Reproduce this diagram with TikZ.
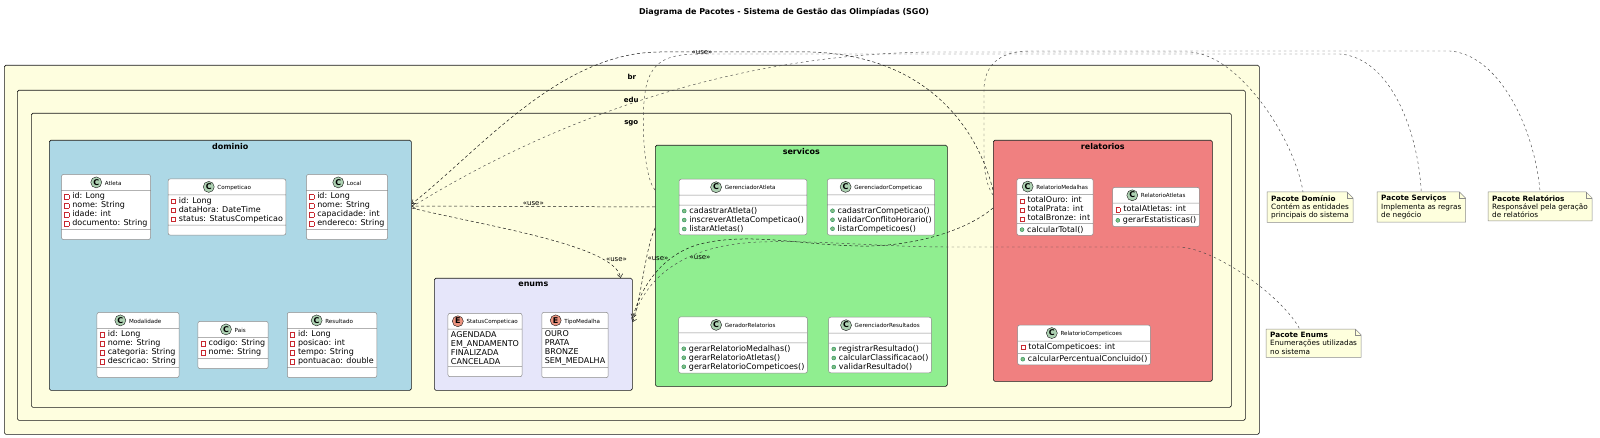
\documentclass[tikz,border=0pt]{standalone}
\usepackage{fontspec}
\setmainfont{DejaVu Sans}
\usetikzlibrary{positioning, arrows.meta, shapes.multipart, backgrounds}

\definecolor{pkgyellow}{HTML}{FEFEDF}
\definecolor{dombg}{HTML}{ADD8E6}
\definecolor{enumbg}{HTML}{E6E6FA}
\definecolor{servbg}{HTML}{90EE90}
\definecolor{relbg}{HTML}{F08080}
\definecolor{classgreen}{HTML}{ADD1B2}
\definecolor{enumred}{HTML}{EB937F}
\definecolor{privred}{HTML}{C82930}
\definecolor{pubgreen}{HTML}{84BE84}
\definecolor{pubdark}{HTML}{038048}
\definecolor{linedark}{HTML}{181818}
\definecolor{classgray}{HTML}{8A8A8A}
\definecolor{notebg}{HTML}{FEFFDD}

% visibility marks and class header
\newcommand{\priv}{{\setlength{\fboxsep}{0pt}\setlength{\fboxrule}{0.6pt}\fcolorbox{privred}{white}{\rule{0pt}{3.6pt}\rule{3.6pt}{0pt}}}\hspace{3pt}}
\newcommand{\pub}{\tikz[baseline=-0.2pt]\filldraw[draw=pubdark, fill=pubgreen, line width=0.3pt] (2.2pt,2.2pt) circle (2pt);\hspace{3pt}}
\newcommand{\chead}[3]{\tikz[baseline=-2.7pt]\filldraw[draw=linedark, fill=#1, line width=0.4pt] (0pt,0pt) circle (5.5pt);\hspace{-5.7pt}\makebox[0pt][c]{\bfseries #2}\hspace{8.7pt}{\fontsize{5.6}{6}\selectfont #3}}

\tikzset{
  pkg/.style={draw=linedark, line width=0.6pt, rounded corners=1.5pt, anchor=north west, inner sep=0pt},
  pkgname/.style={font=\bfseries\fontsize{8}{9}\selectfont, inner sep=1pt},
  outername/.style={font=\bfseries\fontsize{7}{8}\selectfont, inner sep=1pt},
  umlclass/.style={rectangle split, rectangle split parts=3, draw=classgray, line width=0.5pt,
    fill=white, rounded corners=2pt, align=left, rectangle split part align={center,left,left},
    inner xsep=3pt, inner ysep=2pt, rectangle split empty part height=1.5pt,
    font=\fontsize{8}{9}\selectfont},
  notebox/.style={anchor=north west, align=left, inner xsep=4pt, inner ysep=3pt,
    font=\fontsize{7.3}{8.3}\selectfont},
  notedraw/.style={draw=classgray, fill=notebg, line width=0.5pt},
  usedep/.style={draw=linedark, line width=0.5pt, dash pattern=on 3pt off 2.5pt,
    -{Straight Barb[length=3.5pt, width=5.5pt]}},
  uselabel/.style={font=\fontsize{7}{8}\selectfont, inner sep=1pt},
  notelink/.style={draw=linedark!80, line width=0.45pt, dash pattern=on 2.5pt off 3pt},
}

\begin{document}
\begin{tikzpicture}[x=1pt, y=-1pt]
    \useasboundingbox (0,0) rectangle (1600,438);

    % Title
    \node[font=\bfseries\fontsize{8}{9}\selectfont] (title) at (784,12) {Diagrama de Pacotes - Sistema de Gestão das Olimpíadas (SGO)};

    % Nested packages
    \node[pkg, fill=pkgyellow, minimum width=1255pt, minimum height=369pt] (br) at (4,65) {};
    \node[outername, below=8pt of br.north] (brName) {br};
    \node[pkg, fill=pkgyellow, minimum width=1228pt, minimum height=330pt] (edu) at (17,90) {};
    \node[outername, below=6pt of edu.north] (eduName) {edu};
    \node[pkg, fill=pkgyellow, minimum width=1200pt, minimum height=294pt] (sgo) at (31,113) {};
    \node[outername, below=6pt of sgo.north] (sgoName) {sgo};

    \node[pkg, fill=dombg, minimum width=362pt, minimum height=250pt] (dominio) at (49,140) {};
    \node[pkgname, below=2pt of dominio.north] (dominioName) {dominio};
    \node[pkg, fill=enumbg, minimum width=198pt, minimum height=112pt] (enums) at (434,278) {};
    \node[pkgname, below=3pt of enums.north] (enumsName) {enums};
    \node[pkg, fill=servbg, minimum width=292pt, minimum height=241pt] (servicos) at (655,145) {};
    \node[pkgname, below=2pt of servicos.north] (servicosName) {servicos};
    \node[pkg, fill=relbg, minimum width=219pt, minimum height=241pt] (relatorios) at (993,140) {};
    \node[pkgname, below=2pt of relatorios.north] (relatoriosName) {relatorios};

    % dominio classes
    \node[umlclass] (atleta) at (106,207) {\chead{classgreen}{C}{Atleta}%
      \nodepart{two}\priv id: Long\\\priv nome: String\\\priv idade: int\\\priv documento: String%
      \nodepart{three}};
    \node[umlclass] (competicao) at (227,207) {\chead{classgreen}{C}{Competicao}%
      \nodepart{two}\priv id: Long\\\priv dataHora: DateTime\\\priv status: StatusCompeticao%
      \nodepart{three}};
    \node[umlclass] (local) at (347,207) {\chead{classgreen}{C}{Local}%
      \nodepart{two}\priv id: Long\\\priv nome: String\\\priv capacidade: int\\\priv endereco: String%
      \nodepart{three}};
    \node[umlclass] (modalidade) at (138,345) {\chead{classgreen}{C}{Modalidade}%
      \nodepart{two}\priv id: Long\\\priv nome: String\\\priv categoria: String\\\priv descricao: String%
      \nodepart{three}};
    \node[umlclass] (pais) at (233,345) {\chead{classgreen}{C}{Pais}%
      \nodepart{two}\priv codigo: String\\\priv nome: String%
      \nodepart{three}};
    \node[umlclass] (resultado) at (332,345) {\chead{classgreen}{C}{Resultado}%
      \nodepart{two}\priv id: Long\\\priv posicao: int\\\priv tempo: String\\\priv pontuacao: double%
      \nodepart{three}};

    % enums
    \node[umlclass] (statusComp) at (485,345) {\chead{enumred}{E}{StatusCompeticao}%
      \nodepart{two}AGENDADA\\EM\_ANDAMENTO\\FINALIZADA\\CANCELADA%
      \nodepart{three}};
    \node[umlclass] (tipoMedalha) at (575,345) {\chead{enumred}{E}{TipoMedalha}%
      \nodepart{two}OURO\\PRATA\\BRONZE\\SEM\_MEDALHA%
      \nodepart{three}};

    % servicos classes
    \node[umlclass] (gerAtleta) at (743,207) {\chead{classgreen}{C}{GerenciadorAtleta}%
      \nodepart{two}%
      \nodepart{three}\pub cadastrarAtleta()\\\pub inscreverAtletaCompeticao()\\\pub listarAtletas()};
    \node[umlclass] (gerComp) at (881,207) {\chead{classgreen}{C}{GerenciadorCompeticao}%
      \nodepart{two}%
      \nodepart{three}\pub cadastrarCompeticao()\\\pub validarConflitoHorario()\\\pub listarCompeticoes()};
    \node[umlclass] (gerRel) at (743,345) {\chead{classgreen}{C}{GeradorRelatorios}%
      \nodepart{two}%
      \nodepart{three}\pub gerarRelatorioMedalhas()\\\pub gerarRelatorioAtletas()\\\pub gerarRelatorioCompeticoes()};
    \node[umlclass] (gerRes) at (880,345) {\chead{classgreen}{C}{GerenciadorResultados}%
      \nodepart{two}%
      \nodepart{three}\pub registrarResultado()\\\pub calcularClassificacao()\\\pub validarResultado()};

    % relatorios classes
    \node[umlclass] (relMedalhas) at (1055,207) {\chead{classgreen}{C}{RelatorioMedalhas}%
      \nodepart{two}\priv totalOuro: int\\\priv totalPrata: int\\\priv totalBronze: int%
      \nodepart{three}\pub calcularTotal()};
    \node[umlclass] (relAtletas) at (1156,207) {\chead{classgreen}{C}{RelatorioAtletas}%
      \nodepart{two}\priv totalAtletas: int%
      \nodepart{three}\pub gerarEstatisticas()};
    \node[umlclass] (relComp) at (1084,345) {\chead{classgreen}{C}{RelatorioCompeticoes}%
      \nodepart{two}\priv totalCompeticoes: int%
      \nodepart{three}\pub calcularPercentualConcluido()};

    % Notes
    \node[notebox] (noteDominio) at (1267,192) {\textbf{Pacote Domínio}\\Contém as entidades\\principais do sistema};
    \node[notebox] (noteServicos) at (1377,192) {\textbf{Pacote Serviços}\\Implementa as regras\\de negócio};
    \node[notebox] (noteRelatorios) at (1488,192) {\textbf{Pacote Relatórios}\\Responsável pela geração\\de relatórios};
    \node[notebox] (noteEnums) at (1266,329) {\textbf{Pacote Enums}\\Enumerações utilizadas\\no sistema};
    \begin{scope}[on background layer]
      \foreach \n in {noteDominio, noteServicos, noteRelatorios, noteEnums}{
        \filldraw[notedraw] (\n.north west) -- ([xshift=-6pt]\n.north east) -- ([yshift=-6pt]\n.north east)
          -- (\n.south east) -- (\n.south west) -- cycle;
        \draw[notedraw, fill=none] ([xshift=-6pt]\n.north east) |- ([yshift=-6pt]\n.north east);
      }
    \end{scope}

    % Dependencies
    \draw[usedep] ([yshift=-62pt]servicos.north west) -- node[uselabel, above] (useServDom) {«use»} ([yshift=-66pt]dominio.north east);
    \draw[usedep] ([yshift=-68pt]dominio.north east) .. controls (485,226) and (615,245)
      .. node[uselabel, pos=0.8, right=1pt] (useDomEnum) {«use»} ([xshift=-12pt]enums.north east);
    \draw[usedep] ([yshift=-50pt]relatorios.north west) .. controls (975,120) and (920,55) .. (810,52)
      -- node[uselabel, pos=0.72, below=-3pt] (useRelDom) {«use»} (660,52)
      .. controls (560,52) and (480,150) .. ([yshift=-64pt]dominio.north east);
    \draw[usedep] ([yshift=-83pt]servicos.north west) .. controls (645,250) and (641,300)
      .. node[uselabel, pos=0.35, right=0pt] (useServEnum) {«use»} ([yshift=-44pt]enums.north east);
    \draw[usedep] ([yshift=-68pt]relatorios.north west) .. controls (965,232) and (910,247) .. (860,246)
      .. controls (800,245) and (750,232) .. (700,244)
      .. controls (660,255) and (640,290) .. node[uselabel, pos=0, below=10pt] (useRelEnum) {«use»}
      ([yshift=-40pt]enums.north east);

    % Note links
    \draw[notelink] ([yshift=-67pt]dominio.north east) .. controls (520,140) and (700,55) .. (930,52)
      -- (1190,52) .. controls (1240,55) and (1295,140) .. ([xshift=-7pt]noteDominio.north);
    \draw[notelink] ([yshift=-45pt]servicos.north west) .. controls (642,175) and (640,100) .. (648,80)
      .. controls (655,60) and (670,54) .. (700,54) -- (1340,54)
      .. controls (1390,58) and (1418,130) .. (noteServicos.north);
    \draw[notelink] ([yshift=-55pt]relatorios.north west) .. controls (986,185) and (984,170) .. (984,155)
      -- (984,90) .. controls (984,65) and (1000,51) .. (1030,51) -- (1450,51)
      .. controls (1500,55) and (1535,130) .. (noteRelatorios.north);
    \draw[notelink] ([yshift=-42pt]enums.north east) .. controls (645,280) and (680,245) .. (760,242)
      .. controls (820,240) and (880,247) .. (950,247) -- (1180,247)
      .. controls (1220,250) and (1285,300) .. ([xshift=-14pt]noteEnums.north);
\end{tikzpicture}
\end{document}
